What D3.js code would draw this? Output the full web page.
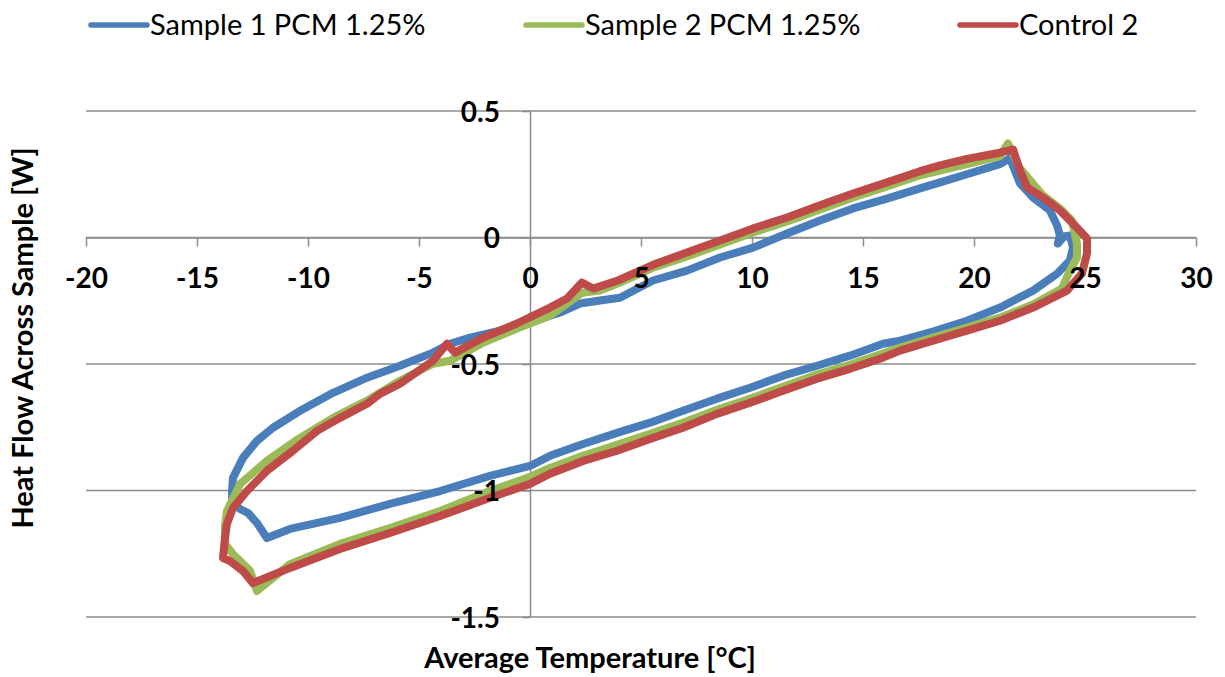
<!DOCTYPE html>
<html>
<head>
<meta charset="utf-8">
<script src="https://cdn.jsdelivr.net/npm/d3@7"></script>
<style>
  body { margin: 0; background: #ffffff; }
  svg { display: block; }
  text { font-family: Lato, "Open Sans", "DejaVu Sans", sans-serif; fill: #000; }
</style>
</head>
<body>
<svg id="chart" width="1225" height="677"></svg>
<script>
// Series names, colours and axis ticks
const seriesNames = ["Sample 1 PCM 1.25%", "Sample 2 PCM 1.25%", "Control 2"];
const seriesColors = ["#4a7ebb", "#9bbb59", "#be4b48"];
const xTicks = [-20, -15, -10, -5, 0, 5, 10, 15, 20, 25, 30];
const yTicks = [0.5, 0, -0.5, -1, -1.5];

// Hysteresis loops: [average temperature (°C), heat flow (W)]
const sample1 = [
  [-13.42, -1.041], [-13.42, -1.002], [-13.38, -0.950], [-12.93, -0.871], [-12.30, -0.804],
  [-11.58, -0.752], [-10.36, -0.685], [-8.87, -0.614], [-7.34, -0.554], [-5.86, -0.507],
  [-4.37, -0.455], [-3.60, -0.420], [-2.70, -0.396], [-1.35, -0.368], [0.00, -0.333],
  [1.35, -0.297], [2.25, -0.261], [3.15, -0.249], [4.05, -0.238], [5.54, -0.170],
  [7.07, -0.131], [8.56, -0.079], [10.05, -0.040], [11.58, 0.016], [13.06, 0.067],
  [14.55, 0.115], [16.08, 0.154], [17.57, 0.194], [18.47, 0.218], [19.68, 0.250],
  [21.17, 0.290], [21.62, 0.313], [22.07, 0.214], [22.66, 0.158], [23.42, 0.107],
  [23.74, 0.048], [23.87, 0.008], [23.78, -0.024], [24.05, 0.004], [24.32, 0.008],
  [24.46, -0.040], [24.32, -0.091], [23.74, -0.143], [22.66, -0.210], [21.17, -0.277],
  [19.68, -0.329], [18.15, -0.372], [16.67, -0.408], [15.90, -0.420], [14.41, -0.467],
  [12.93, -0.507], [11.40, -0.546], [9.91, -0.594], [8.42, -0.637], [6.89, -0.685],
  [5.41, -0.732], [3.92, -0.772], [2.39, -0.816], [0.90, -0.863], [0.00, -0.903],
  [-1.80, -0.942], [-4.05, -1.002], [-6.31, -1.053], [-8.56, -1.108], [-10.81, -1.152],
  [-11.85, -1.188], [-12.30, -1.128], [-12.70, -1.089], [-13.06, -1.073], [-13.38, -1.049]
];

const sample2 = [
  [-13.74, -1.211], [-13.74, -1.140], [-13.65, -1.081], [-13.06, -0.974], [-11.85, -0.883],
  [-10.36, -0.792], [-8.87, -0.713], [-7.34, -0.645], [-5.86, -0.566], [-4.37, -0.499],
  [-3.60, -0.487], [-2.12, -0.416], [-0.59, -0.360], [0.90, -0.309], [2.34, -0.218],
  [3.15, -0.210], [4.05, -0.178], [5.54, -0.119], [7.07, -0.075], [8.56, -0.028],
  [10.05, 0.020], [11.58, 0.063], [13.06, 0.111], [14.55, 0.158], [16.08, 0.202],
  [17.57, 0.246], [19.68, 0.290], [21.17, 0.322], [21.53, 0.372], [22.07, 0.273],
  [23.11, 0.166], [23.87, 0.115], [24.41, 0.067], [24.64, -0.024], [24.64, -0.079],
  [24.32, -0.131], [23.96, -0.202], [22.66, -0.265], [21.17, -0.317], [19.68, -0.356],
  [18.15, -0.396], [16.67, -0.435], [14.41, -0.503], [12.93, -0.542], [11.40, -0.590],
  [9.91, -0.637], [8.42, -0.681], [6.89, -0.732], [5.41, -0.776], [3.92, -0.819],
  [2.39, -0.863], [0.90, -0.911], [0.00, -0.946], [-1.80, -1.002], [-4.05, -1.081],
  [-6.31, -1.148], [-8.56, -1.211], [-10.81, -1.291], [-12.30, -1.397], [-12.61, -1.318],
  [-13.38, -1.251]
];

const control2 = [
  [-13.83, -1.267], [-13.74, -1.188], [-13.65, -1.132], [-13.38, -1.069], [-12.75, -1.002],
  [-11.85, -0.922], [-10.68, -0.843], [-9.59, -0.764], [-8.56, -0.713], [-7.34, -0.657],
  [-6.76, -0.618], [-5.86, -0.578], [-4.37, -0.487], [-3.74, -0.420], [-3.38, -0.455],
  [-2.12, -0.396], [-0.59, -0.340], [0.90, -0.277], [1.67, -0.241], [2.34, -0.178],
  [2.84, -0.202], [3.96, -0.170], [5.54, -0.108], [7.07, -0.059], [8.56, -0.012],
  [10.05, 0.036], [11.58, 0.079], [13.06, 0.127], [14.55, 0.174], [16.08, 0.218],
  [17.57, 0.262], [18.47, 0.285], [19.68, 0.311], [21.17, 0.335], [21.76, 0.348],
  [22.07, 0.265], [22.39, 0.198], [23.11, 0.158], [23.87, 0.107], [24.46, 0.055],
  [25.09, -0.004], [25.09, -0.063], [24.86, -0.143], [24.19, -0.210], [22.66, -0.277],
  [21.17, -0.329], [19.68, -0.368], [18.15, -0.408], [16.67, -0.447], [15.90, -0.475],
  [14.41, -0.519], [12.93, -0.558], [11.40, -0.606], [9.91, -0.653], [8.42, -0.697],
  [6.89, -0.752], [5.41, -0.796], [3.92, -0.843], [2.39, -0.883], [0.90, -0.934],
  [0.00, -0.974], [-1.80, -1.029], [-4.05, -1.101], [-6.31, -1.168], [-8.56, -1.231],
  [-10.81, -1.306], [-12.48, -1.366], [-12.93, -1.318], [-13.51, -1.279]
];

const seriesData = [sample1, sample2, control2];

// Layout
const svg = d3.select("#chart");
const plot = { left: 86, right: 1196, top: 111, bottom: 617 };
const gridColor = "#8c8c8c";
const tickFont = g => g.selectAll(".tick text")
  .attr("fill", "#000")
  .style("font-family", "Lato, 'Open Sans', sans-serif")
  .style("font-size", "28px")
  .style("font-weight", "bold");

const x = d3.scaleLinear().domain([-20, 30]).range([plot.left, plot.right]);
const y = d3.scaleLinear().domain([-1.5, 0.5]).range([plot.bottom, plot.top]);

// Horizontal gridlines
svg.append("g")
  .selectAll("line")
  .data(yTicks)
  .join("line")
  .attr("x1", plot.left).attr("x2", plot.right)
  .attr("y1", d => y(d)).attr("y2", d => y(d))
  .attr("stroke", gridColor)
  .attr("stroke-width", 1.5);

// Axis lines and tick marks (crossing at the origin)
const xAxisLines = svg.append("g")
  .attr("transform", `translate(0,${y(0)})`)
  .call(d3.axisBottom(x).tickValues(xTicks).tickFormat("")
    .tickSize(9).tickSizeOuter(0));

const yAxisLines = svg.append("g")
  .attr("transform", `translate(${x(0)},0)`)
  .call(d3.axisLeft(y).tickValues(yTicks).tickFormat("")
    .tickSize(8).tickSizeOuter(0));

[xAxisLines, yAxisLines].forEach(g => {
  g.select(".domain").attr("stroke", gridColor).attr("stroke-width", 1.5);
  g.selectAll(".tick line").attr("stroke", gridColor).attr("stroke-width", 1.5);
});

// Series loops
const line = d3.line()
  .x(d => x(d[0]))
  .y(d => y(d[1]))
  .curve(d3.curveLinearClosed);

svg.append("g")
  .selectAll("path")
  .data(seriesData)
  .join("path")
  .attr("d", line)
  .attr("fill", "none")
  .attr("stroke", (d, i) => seriesColors[i])
  .attr("stroke-width", 8)
  .attr("stroke-linejoin", "round")
  .attr("stroke-linecap", "round");

// Tick labels drawn above the series
const xAxisLabels = svg.append("g")
  .attr("transform", `translate(0,${y(0)})`)
  .call(d3.axisBottom(x).tickValues(xTicks).tickFormat(d => String(d))
    .tickSize(0).tickPadding(31))
  .call(tickFont);

const yAxisLabels = svg.append("g")
  .attr("transform", `translate(${x(0)},0)`)
  .call(d3.axisLeft(y).tickValues(yTicks).tickFormat(d => String(d))
    .tickSize(0).tickPadding(30))
  .call(tickFont);
yAxisLabels.selectAll(".tick text").attr("dy", "0.36em");

[xAxisLabels, yAxisLabels].forEach(g => {
  g.select(".domain").remove();
  g.selectAll(".tick line").remove();
});

// Legend
const legendX = [91, 526, 960];
const legend = svg.append("g")
  .selectAll("g")
  .data(seriesNames)
  .join("g")
  .attr("transform", (d, i) => `translate(${legendX[i]},25)`);

legend.append("line")
  .attr("x1", 0).attr("x2", 56)
  .attr("y1", 0).attr("y2", 0)
  .attr("stroke", (d, i) => seriesColors[i])
  .attr("stroke-width", 5.5)
  .attr("stroke-linecap", "round");

legend.append("text")
  .attr("x", 59)
  .attr("y", 10)
  .style("font-size", "29px")
  .text(d => d);

// Axis titles
svg.append("text")
  .attr("x", 590)
  .attr("y", 668)
  .attr("text-anchor", "middle")
  .style("font-size", "29px")
  .style("font-weight", "bold")
  .text("Average Temperature [°C]");

svg.append("text")
  .attr("transform", "translate(33,338) rotate(-90)")
  .attr("text-anchor", "middle")
  .style("font-size", "29px")
  .style("font-weight", "bold")
  .text("Heat Flow Across Sample [W]");
</script>
</body>
</html>
